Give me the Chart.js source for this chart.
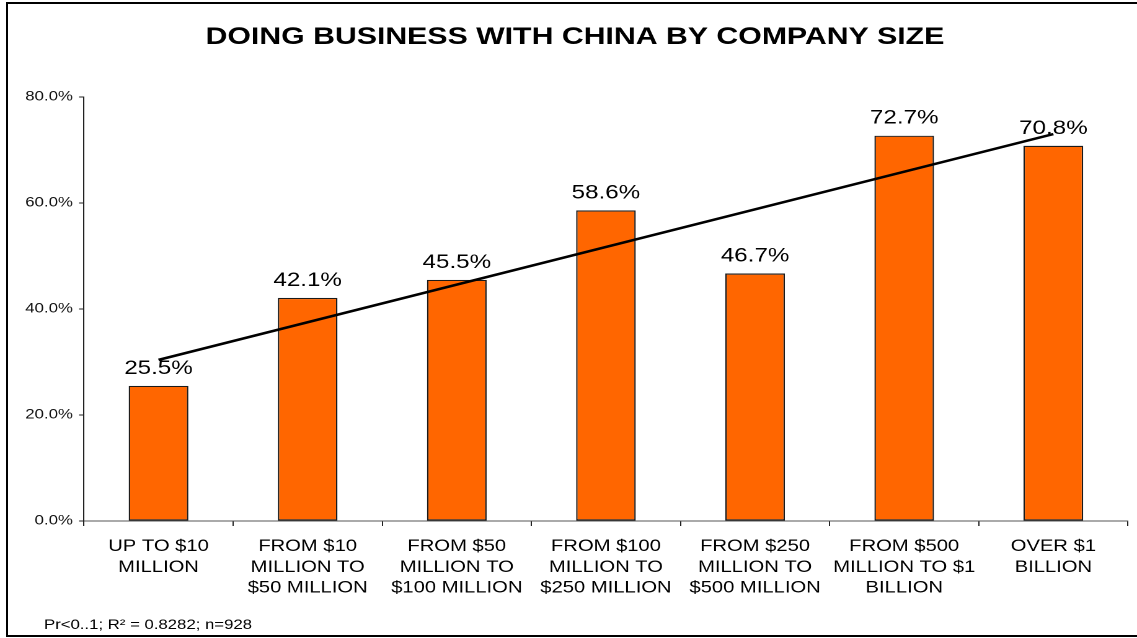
<!DOCTYPE html>
<html>
<head>
<meta charset="utf-8">
<title>Doing Business with China by Company Size</title>
<script src="https://cdn.jsdelivr.net/npm/chart.js@4/dist/chart.umd.min.js"></script>
<style>
    html, body {
        margin: 0;
        padding: 0;
        background: #fff;
        overflow: hidden;
    }
    #frame {
        position: absolute;
        left: 6px;
        top: 2px;
        width: 1150px;
        height: 635px;
        border: 2px solid #000;
        box-sizing: border-box;
    }
    /* the chart is laid out narrow and widened so the text gets the wide look */
    #wrap {
        position: absolute;
        left: 0;
        top: 0;
        width: 917px;
        height: 638px;
        transform: scaleX(1.2399);
        transform-origin: 0 0;
    }
</style>
</head>
<body>
<div id="frame"></div>
<div id="wrap"><canvas id="chinaChart"></canvas></div>
<script>
const FONT = '"Liberation Sans", Arial, Helvetica, sans-serif';

const categories = [
    ['UP TO $10', 'MILLION'],
    ['FROM $10', 'MILLION TO', '$50 MILLION'],
    ['FROM $50', 'MILLION TO', '$100 MILLION'],
    ['FROM $100', 'MILLION TO', '$250 MILLION'],
    ['FROM $250', 'MILLION TO', '$500 MILLION'],
    ['FROM $500', 'MILLION TO $1', 'BILLION'],
    ['OVER $1', 'BILLION'],
];

// share of companies doing business with China, in percent
const shareValues = [25.5, 42.1, 45.5, 58.6, 46.7, 72.7, 70.8];

// linear trend, only the two end points are drawn
const trendValues = [30.4, null, null, null, null, null, 73.0];

const yTicks = [0, 20, 40, 60, 80];

const chartTitle = 'DOING BUSINESS WITH CHINA BY COMPANY SIZE';
const footNote = 'Pr<0..1; R\u00B2 = 0.8282; n=928';

const textPlugin = {
    id: 'textPlugin',
    afterDatasetsDraw(chart) {
        const ctx = chart.ctx;
        const meta = chart.getDatasetMeta(0);

        ctx.save();
        ctx.fillStyle = '#000';
        ctx.textAlign = 'center';
        ctx.textBaseline = 'alphabetic';
        ctx.font = '19.5px ' + FONT;
        meta.data.forEach(function (bar, i) {
            ctx.fillText(shareValues[i].toFixed(1) + '%', bar.x, bar.y - 12);
        });
        ctx.restore();
    },
    afterDraw(chart) {
        const ctx = chart.ctx;

        ctx.save();
        ctx.fillStyle = '#000';
        ctx.textAlign = 'center';
        ctx.textBaseline = 'middle';
        ctx.font = 'bold 24.4px ' + FONT;
        ctx.fillText(chartTitle, 463.7, 37.5);

        ctx.textAlign = 'left';
        ctx.textBaseline = 'alphabetic';
        ctx.font = '13.5px ' + FONT;
        ctx.fillText(footNote, 35.5, 629);
        ctx.restore();
    },
};

function renderChinaChart() {
    const canvas = document.getElementById('chinaChart');

    new Chart(canvas, {
        type: 'bar',
        data: {
            labels: categories,
            datasets: [
                {
                    type: 'bar',
                    label: 'Share',
                    data: shareValues,
                    backgroundColor: '#FF6600',
                    borderColor: '#1a1a1a',
                    borderWidth: 1.2,
                    borderSkipped: false,
                    categoryPercentage: 1,
                    barPercentage: 0.4,
                    order: 1,
                },
                {
                    type: 'line',
                    label: 'Trend',
                    data: trendValues,
                    borderColor: '#000',
                    borderWidth: 2.5,
                    pointRadius: 0,
                    spanGaps: true,
                    fill: false,
                    order: 0,
                },
            ],
        },
        options: {
            responsive: true,
            maintainAspectRatio: false,
            devicePixelRatio: 2,
            animation: false,
            layout: {
                padding: { top: 97, right: 7.3, bottom: 0, left: 0 },
            },
            plugins: {
                legend: { display: false },
                tooltip: { enabled: false },
                title: { display: false },
            },
            scales: {
                x: {
                    afterFit: function (scale) {
                        scale.height = 117;
                    },
                    grid: {
                        offset: true,
                        drawOnChartArea: false,
                        drawTicks: true,
                        tickLength: 5,
                        color: '#222',
                    },
                    border: { display: true, color: '#555', width: 1 },
                    ticks: {
                        color: '#000',
                        padding: 10,
                        maxRotation: 0,
                        autoSkip: false,
                        font: { family: FONT, size: 16.3, lineHeight: 1.28 },
                    },
                },
                y: {
                    min: 0,
                    max: 80,
                    afterFit: function (scale) {
                        scale.width = 67.7;
                    },
                    afterBuildTicks: function (scale) {
                        scale.ticks = yTicks.map(function (v) {
                            return { value: v };
                        });
                    },
                    grid: {
                        drawOnChartArea: false,
                        drawTicks: true,
                        tickLength: 4,
                        color: '#222',
                    },
                    border: { display: true, color: '#222', width: 1 },
                    ticks: {
                        color: '#111',
                        padding: 5,
                        font: { family: FONT, size: 13.5 },
                        callback: function (value) {
                            return Number(value).toFixed(1) + '%';
                        },
                    },
                },
            },
        },
        plugins: [textPlugin],
    });
}

document.addEventListener('DOMContentLoaded', function () {
    renderChinaChart();
});
</script>
</body>
</html>
